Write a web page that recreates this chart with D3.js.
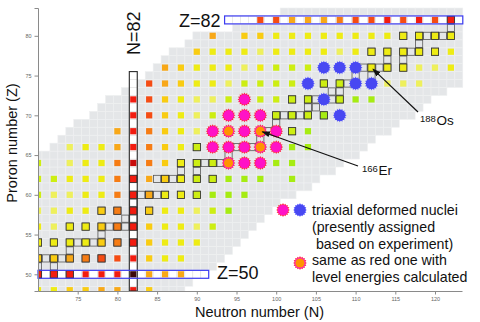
<!DOCTYPE html>
<html><head><meta charset="utf-8">
<script src="https://cdn.jsdelivr.net/npm/d3@7"></script>
<style>
body{margin:0;background:#fff;}
svg{display:block;font-family:"Liberation Sans",Arial,Helvetica,sans-serif;}
</style></head><body>
<svg id="c" width="480" height="322"></svg>
<script>
// ---------------- DATA ----------------
const nEven = d3.range(70, 123, 2);            // 70..122
const zEven = d3.range(48, 83, 2);             // 48..82
// one code per even N (70..122); '.' = no square, m/b/c = stars
const rowCodes = [
 "YYGGAARG...................", // 48
 "RRRRRRKAAA.................", // 50
 "GGAOSSRGYY.................", // 52
 "YYYYGORGYYY................", // 54
 "YLYYGORGYYLV...............", // 56
 "LLYYGORGYYLVW..............", // 58
 "VLLYYORAYYVWWW.............", // 60
 "VVYYYORAGYVVWWW.W..........", // 62
 "V.LYYODOGYVVcmmWW..........", // 64
 "..LYYAROGYVmmmcmWW.........", // 66
 ".....AROGYLmcmcmVW.........", // 68
 "......RSGYLVmmmVVVWb.......", // 70
 "......RSGYLLVmVVVVbVWW.....", // 72
 ".......SAGYYLVVVVbVVbbLLL..", // 74
 "........AGYYYLYVVVbbbYYYLLY", // 76
 "..........GYYYLYYYYLYYYYYYY", // 78
 "...........A.GGYYYYYYYYYYYY", // 80
 "..............SSAAAOSSRSRSR"  // 82
];
// grey (known nuclei) region per Z
const greyZ    = d3.range(48, 84);
const greyNmin = [69,69,69,69,69,69,69,69,69,69,69,69,69,69,69,69,69,69, 72,73,74,75,77,78,79,81,83,84,85,86,87,89,90,95,96,101];
const greyNmax = [88,89,91,92,93,94,95,96,97,98,99,100,102,104,105,107,108,110,111,112,114,115,117,118,119,121,123,123,123,123,123,123,123,123,123,123];
// stable nuclides (outlined cells)
const stableZ = [50,51,52,53,54,55,56,57,58,59,60,62,63,64,65,66,67,68,69,70,71,72,73,74,75,76,77,78,79,80,81,82];
const stableN = [
 [70,72,74],[70,72],[70,71,72,73,74,76,78],[74],[70,72,74,75,76,77,78,80,82],[78],
 [74,76,78,79,80,81,82],[81,82],[78,80,82,84],[82],[82,83,84,85,86,88,90],
 [82,85,86,87,88,90,92],[88,90],[88,90,91,92,93,94,96],[94],[90,92,94,95,96,97,98],[98],
 [94,96,98,99,100,102],[100],[98,100,101,102,103,104,106],[104,105],[102,104,105,106,107,108],
 [107,108],[106,108,109,110,112],[110,112],[108,110,111,112,113,114,116],[114,116],
 [112,114,116,117,118,120],[118],[116,118,119,120,121,122],[122],[122]
];
const xTicks = [75,80,85,90,95,100,105,110,115,120];
const yTicks = [50,55,60,65,70,75,80];
const legendLines = ["triaxial deformed nuclei","(presently assigned"," based on experiment)","same as red one with","level energies calculated"];

// ---------------- STYLE ----------------
const palette = {K:"#3c0a0a",D:"#c80c0c",R:"#f21c10",S:"#f54c14",O:"#f67c14",A:"#f8a818",
  G:"#f9cc12",Y:"#eeec14",L:"#eef05c",V:"#cdee12",W:"#a6ec12"};

const svg = d3.select("#c");
const x = d3.scaleLinear().domain([70, 123.4]).range([38, 462]);
const y = d3.scaleLinear().domain([47.9, 83.5]).range([291, 8]);
const cw = x(71) - x(70), ch = y(48) - y(49);

svg.append("defs").append("clipPath").attr("id","clip")
  .append("rect").attr("x",38).attr("y",0).attr("width",442).attr("height",291);
svg.select("defs").append("marker").attr("id","ah").attr("viewBox","0 0 10 10")
  .attr("refX",9).attr("refY",5).attr("markerWidth",7).attr("markerHeight",7)
  .attr("orient","auto").append("path").attr("d","M0,1.5L10,5L0,8.5Z").attr("fill","#111");

const plot = svg.append("g").attr("clip-path","url(#clip)");

// grey cells
const greyCells = [];
greyZ.forEach((z,i)=>{ for(let n=greyNmin[i]; n<=greyNmax[i]; n++) greyCells.push({n,z}); });
plot.append("g").selectAll("rect").data(greyCells).join("rect")
  .attr("x",d=>x(d.n)-cw/2).attr("y",d=>y(d.z)-ch/2).attr("width",cw).attr("height",ch)
  .attr("fill","#e4e6e8").attr("stroke","#eff0f1").attr("stroke-width",0.6);

// white magic column / rows
const colCells = d3.range(48, 76).map(z=>({n:82,z}));
const row50 = d3.range(69, 92).map(n=>({n,z:50}));
const row82 = d3.range(94, 124).map(n=>({n,z:82}));
plot.append("g").selectAll("rect").data(colCells.concat(row50,row82)).join("rect")
  .attr("x",d=>x(d.n)-cw/2).attr("y",d=>y(d.z)-ch/2).attr("width",cw).attr("height",ch)
  .attr("fill","#fff").attr("stroke","#e2e2e2").attr("stroke-width",0.6);

// stable outlines
const stableCells = [];
stableZ.forEach((z,i)=>stableN[i].forEach(n=>stableCells.push({n,z})));
const isStable = new Set(stableCells.map(d=>d.n+"_"+d.z));
const so = 7.2;
plot.append("g").selectAll("rect").data(stableCells).join("rect")
  .attr("x",d=>x(d.n)-so/2).attr("y",d=>y(d.z)-so/2).attr("width",so).attr("height",so)
  .attr("fill","none").attr("stroke","#3a3a3a").attr("stroke-width",0.8).attr("opacity",0.85);

// squares and stars
const cells = [];
zEven.forEach((z,i)=>{ rowCodes[i].split("").forEach((c,j)=>{ if(c!==".") cells.push({n:nEven[j],z,c}); }); });
const squares = cells.filter(d=>palette[d.c]);
const sq = 6.2;
plot.append("g").selectAll("rect").data(squares).join("rect")
  .attr("x",d=>x(d.n)-(isStable.has(d.n+"_"+d.z)?so:sq)/2)
  .attr("y",d=>y(d.z)-(isStable.has(d.n+"_"+d.z)?so:sq)/2)
  .attr("width",d=>isStable.has(d.n+"_"+d.z)?so:sq)
  .attr("height",d=>isStable.has(d.n+"_"+d.z)?so:sq)
  .attr("fill",d=>palette[d.c])
  .attr("stroke",d=>isStable.has(d.n+"_"+d.z)?"#333":"none").attr("stroke-width",0.8);

function starPath(r1,r2,k){
  const pts=[]; for(let i=0;i<2*k;i++){const a=Math.PI*i/k; const r=i%2?r2:r1; pts.push([r*Math.sin(a),-r*Math.cos(a)]);}
  return "M"+pts.map(p=>p[0].toFixed(2)+","+p[1].toFixed(2)).join("L")+"Z";
}
const starStyle = {
  m:{spike:"#ff2440",ring:null,core:"#ff12c6",r:5.2},
  b:{spike:"#5c5cff",ring:null,core:"#4848f2",r:5.6},
  c:{spike:"#ff2440",ring:"#ff20c0",core:"#ff9400",r:4.6}
};
function drawStar(g,cx,cy,type){
  const s=starStyle[type];
  const gg=g.append("g").attr("transform",`translate(${cx},${cy})`);
  gg.append("path").attr("d",starPath(6.9,5.3,16)).attr("fill",s.spike);
  if(s.ring) gg.append("circle").attr("r",5.5).attr("fill",s.ring);
  gg.append("circle").attr("r",s.r).attr("fill",s.core);
}
const stars = cells.filter(d=>!palette[d.c]);
const sg = svg.append("g");
stars.forEach(d=>drawStar(sg,x(d.n),y(d.z),d.c));

// column & box outlines
svg.append("rect").attr("x",x(82)-cw/2).attr("y",y(75.5)).attr("width",cw).attr("height",291-y(75.5))
  .attr("fill","none").attr("stroke","#2a2a2a").attr("stroke-width",1.1);
svg.append("rect").attr("x",38).attr("y",y(50.5)).attr("width",x(91.5)-38).attr("height",ch)
  .attr("fill","none").attr("stroke","#3c3cf2").attr("stroke-width",1.2);
svg.append("rect").attr("x",x(93.5)).attr("y",y(82.5)).attr("width",x(123.5)-x(93.5)).attr("height",ch)
  .attr("fill","none").attr("stroke","#3c3cf2").attr("stroke-width",1.2);

// axes
const xa = svg.append("g").attr("transform","translate(0,291)")
  .call(d3.axisBottom(x).tickValues(xTicks).tickSize(3.5).tickSizeOuter(0));
const ya = svg.append("g").attr("transform","translate(38,0)")
  .call(d3.axisLeft(y).tickValues(yTicks).tickSize(3.5).tickSizeOuter(3.5));
[xa,ya].forEach(a=>{
  a.select(".domain").attr("stroke","#8a8a8a");
  a.selectAll(".tick line").attr("stroke","#8a8a8a");
  a.selectAll(".tick text").attr("fill","#666").attr("font-size","5.5px").attr("font-family","Liberation Sans, Arial, sans-serif");
});

// titles
svg.append("text").attr("x",259.5).attr("y",317).attr("text-anchor","middle")
  .attr("font-size","14.5px").attr("fill","#111").text("Neutron number (N)");
svg.append("text").attr("transform","translate(17,143) rotate(-90)").attr("text-anchor","middle")
  .attr("font-size","14.5px").attr("fill","#111").text("Proron number (Z)");

// magic labels
svg.append("text").attr("x",179).attr("y",27).attr("font-size","18px").attr("fill","#111").text("Z=82");
svg.append("text").attr("x",217).attr("y",279).attr("font-size","18px").attr("fill","#111").text("Z=50");
svg.append("text").attr("transform","translate(140,55) rotate(-90)").attr("font-size","18px").attr("fill","#111").text("N=82");

// annotations
svg.append("line").attr("x1",418).attr("y1",112).attr("x2",x(112)+1.5).attr("y2",y(76)+1.5)
  .attr("stroke","#111").attr("stroke-width",1.2).attr("marker-end","url(#ah)");
svg.append("line").attr("x1",358).attr("y1",166).attr("x2",x(98)+2).attr("y2",y(68)+0.5)
  .attr("stroke","#111").attr("stroke-width",1.2).attr("marker-end","url(#ah)");
svg.append("text").attr("x",420).attr("y",121.5).attr("font-size","9.5px").attr("fill","#111").text("188");
svg.append("text").attr("x",436.5).attr("y",124.5).attr("font-size","13.5px").attr("fill","#111").text("Os");
svg.append("text").attr("x",362).attr("y",172).attr("font-size","9.5px").attr("fill","#111").text("166");
svg.append("text").attr("x",378.5).attr("y",175).attr("font-size","13.5px").attr("fill","#111").text("Er");

// legend
drawStar(svg,283,210,"m");
drawStar(svg,300,210,"b");
drawStar(svg,300,263,"c");
const ly = [215,232,248.5,265,282];
legendLines.forEach((t,i)=>{
  svg.append("text").attr("x",312).attr("y",ly[i]).attr("font-size","14.2px").attr("fill","#111")
    .attr("xml:space","preserve").style("white-space","pre").text(t);
});
</script></body></html>
